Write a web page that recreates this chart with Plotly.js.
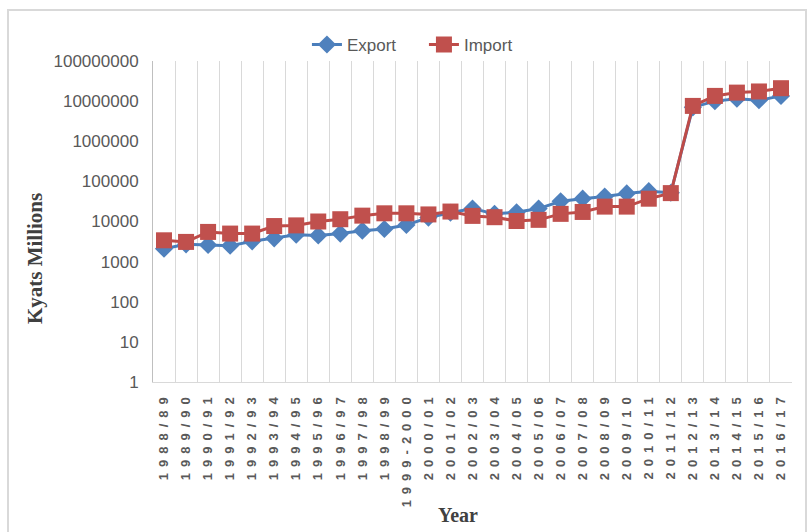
<!DOCTYPE html>
<html>
<head>
<meta charset="utf-8">
<script src="https://cdn.plot.ly/plotly-3.0.1.min.js"></script>
<style>
html, body { margin: 0; padding: 0; background: #ffffff; }
#chart { width: 808px; height: 532px; }
.xtick text { letter-spacing: 6px; }
</style>
</head>
<body>
<div id="chart"></div>
<script>
var years = ["1988/89","1989/90","1990/91","1991/92","1992/93","1993/94","1994/95","1995/96","1996/97","1997/98","1998/99","1999-2000","2000/01","2001/02","2002/03","2003/04","2004/05","2005/06","2006/07","2007/08","2008/09","2009/10","2010/11","2011/12","2012/13","2013/14","2014/15","2015/16","2016/17"];

var exportValues = [2100, 2700, 2600, 2500, 3200, 3800, 4700, 4500, 5000, 5900, 6500, 8200, 12500, 16500, 21000, 15500, 17000, 21000, 32000, 37000, 42000, 50000, 57000, 52000, 7000000, 10000000, 11500000, 10500000, 13500000];

var importValues = [3400, 3100, 5500, 5000, 5000, 7700, 8000, 10000, 11400, 14000, 16000, 16000, 15000, 17700, 13800, 12800, 10300, 11000, 15500, 17300, 23500, 23500, 37000, 51000, 7600000, 13500000, 16300000, 17400000, 21000000];

var yTickValues = [1, 10, 100, 1000, 10000, 100000, 1000000, 10000000, 100000000];
var yTickLabels = ["1", "10", "100", "1000", "10000", "100000", "1000000", "10000000", "100000000"];

var traces = [
  {
    x: years, y: exportValues, name: "Export", type: "scatter", mode: "lines+markers",
    line: { color: "#4A7EBB", width: 3 },
    marker: { symbol: "diamond", size: 14, color: "#4F81BD" }
  },
  {
    x: years, y: importValues, name: "Import", type: "scatter", mode: "lines+markers",
    line: { color: "#BE4B48", width: 3 },
    marker: { symbol: "square", size: 16, color: "#C0504D" }
  }
];

var layout = {
  width: 808, height: 532,
  margin: { l: 153, r: 16, t: 61, b: 150 },
  paper_bgcolor: "#ffffff", plot_bgcolor: "#ffffff",
  showlegend: true,
  legend: {
    orientation: "h", x: 0.424, xanchor: "center", y: 1.05, yanchor: "middle",
    entrywidth: 72,
    font: { family: "Liberation Sans Narrow, Liberation Sans, sans-serif", size: 17, color: "#595959" },
    bgcolor: "rgba(0,0,0,0)"
  },
  xaxis: {
    type: "category", range: [-0.5, 28.5], tickson: "boundaries",
    showgrid: true, gridcolor: "#d9d9d9", gridwidth: 1,
    showline: true, linecolor: "#d9d9d9", linewidth: 1,
    ticks: "", tickangle: -90, ticklabelstandoff: 3,
    tickfont: { family: "Liberation Sans, Arial, sans-serif", size: 13, weight: "bold", color: "#595959" },
    fixedrange: true
  },
  yaxis: {
    type: "log", range: [0, 8],
    tickvals: yTickValues, ticktext: yTickLabels,
    showgrid: false, zeroline: false,
    showline: true, linecolor: "#bfbfbf", linewidth: 1,
    ticks: "", ticklabelstandoff: 10,
    tickfont: { family: "Liberation Sans, Arial, sans-serif", size: 17, color: "#595959" },
    fixedrange: true
  },
  annotations: [
    {
      text: "Kyats Millions", xref: "paper", yref: "paper", x: -0.1847, y: 0.386,
      xanchor: "center", yanchor: "middle", textangle: -90, showarrow: false,
      font: { family: "Liberation Serif, Times New Roman, serif", size: 21, weight: "bold", color: "#404040" }
    },
    {
      text: "Year", xref: "paper", yref: "paper", x: 0.477, y: -0.414,
      xanchor: "center", yanchor: "middle", showarrow: false,
      font: { family: "Liberation Serif, Times New Roman, serif", size: 20, weight: "bold", color: "#404040" }
    }
  ],
  shapes: [
    {
      type: "rect", xref: "paper", yref: "paper",
      x0: -0.2269, x1: 1.0219, y0: -0.5, y1: 1.1589,
      line: { color: "#d9d9d9", width: 2 }, fillcolor: "rgba(0,0,0,0)", layer: "below"
    }
  ]
};

Plotly.newPlot("chart", traces, layout, { displayModeBar: false, staticPlot: true });
</script>
</body>
</html>
